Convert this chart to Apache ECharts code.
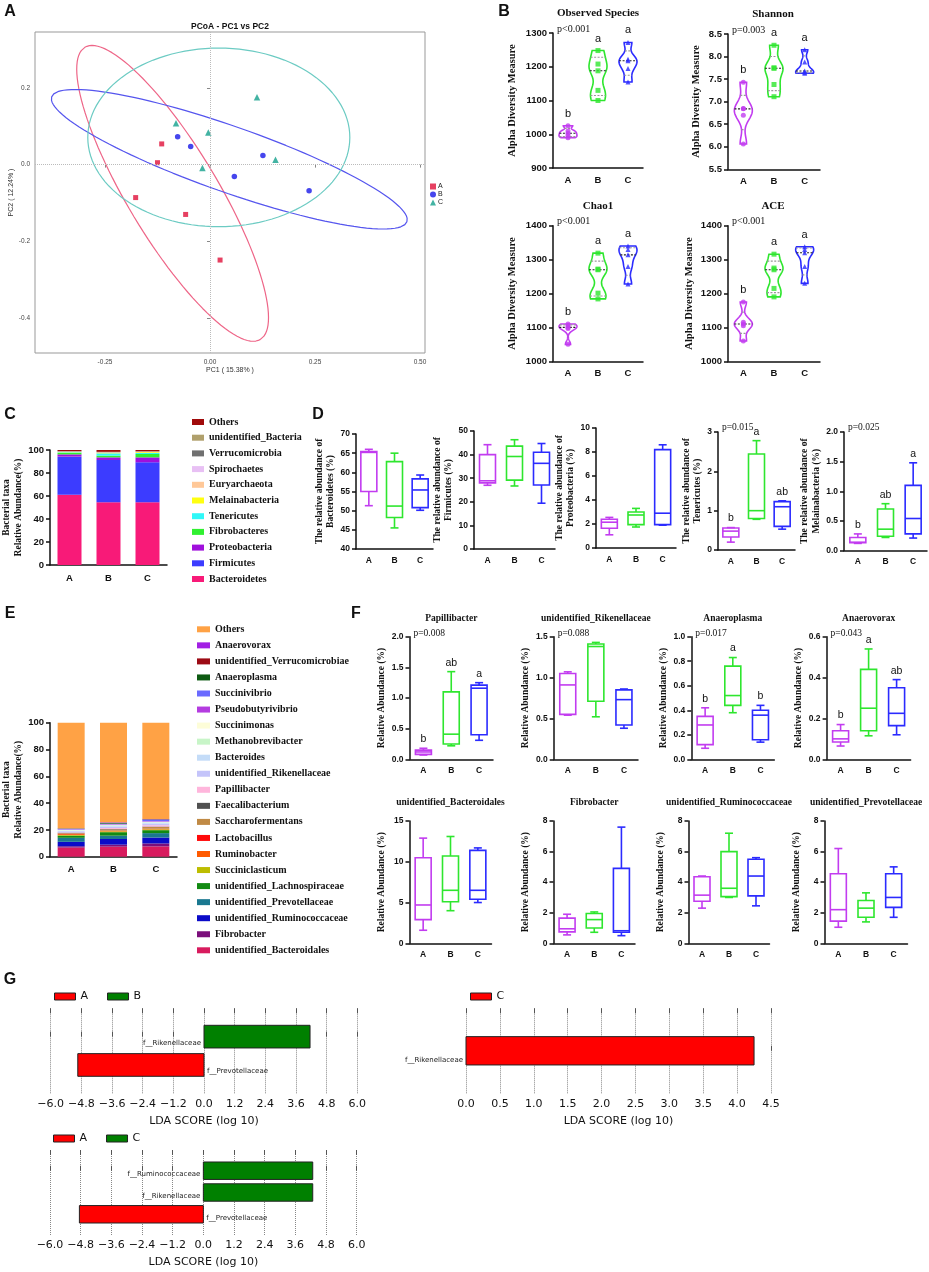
<!DOCTYPE html>
<html>
<head>
<meta charset="utf-8">
<script src="https://cdn.jsdelivr.net/npm/echarts/dist/echarts.min.js"></script>
<style>
  html, body { margin: 0; padding: 0; background: #fff; }
  #chart { width: 929px; height: 1272px; }
</style>
</head>
<body>
<div id="chart"></div>
<script>
// ---------- data ----------
const groups = ['A', 'B', 'C'];

// A: PCoA coordinates
const pcoaA = [[-0.115, 0.054], [-0.125, 0.005], [-0.177, -0.086], [-0.058, -0.130], [0.024, -0.249]];
const pcoaB = [[-0.077, 0.073], [-0.046, 0.047], [0.058, -0.031], [0.126, 0.024], [0.236, -0.068]];
const pcoaC = [[-0.081, 0.108], [-0.004, 0.084], [-0.018, -0.009], [0.112, 0.176], [0.156, 0.013]];
// confidence ellipses: centre and two semi-axis vectors (A, B, C)
const ellipseCenter = [[-0.089, -0.075], [0.046, 0.014], [0.021, 0.071]];
const ellipseAxis1 = [[0.209, -0.381], [0.423, -0.163], [0.312, 0]];
const ellipseAxis2 = [[0.092, 0.061], [-0.026, -0.081], [0, 0.233]];

// B: alpha diversity samples per group
const obsSpecies = [[1025, 1010, 1003, 996, 990], [1248, 1208, 1188, 1130, 1100], [1272, 1222, 1218, 1195, 1155]];
const shannon = [[7.43, 6.85, 6.84, 6.70, 6.06], [8.25, 7.75, 7.74, 7.38, 7.11], [8.15, 7.88, 7.68, 7.65, 7.63]];
const chao1 = [[1110, 1105, 1100, 1097, 1050], [1319, 1272, 1270, 1201, 1184], [1340, 1330, 1314, 1280, 1228]];
const ace = [[1175, 1115, 1110, 1105, 1060], [1316, 1275, 1270, 1215, 1190], [1338, 1330, 1320, 1280, 1230]];
const alphaLetters = [['b', 'a', 'a'], ['b', 'a', 'a'], ['b', 'a', 'a'], ['b', 'a', 'a']];
const alphaP = ['p<0.001', 'p=0.003', 'p<0.001', 'p<0.001'];

// C: phylum composition, bottom of stack first
const phylaNames = ['Bacteroidetes', 'Firmicutes', 'Proteobacteria', 'Fibrobacteres', 'Tenericutes', 'Melainabacteria',
  'Euryarchaeota', 'Spirochaetes', 'Verrucomicrobia', 'unidentified_Bacteria', 'Others'];
const phylaA = [61.0, 33.2, 2.0, 1.3, 0.5, 0.2, 0.2, 0.2, 0.2, 0.2, 1.0];
const phylaB = [54.5, 36.8, 2.3, 1.5, 2.0, 0.5, 0.2, 0.2, 0.2, 0.2, 1.6];
const phylaC = [54.5, 34.8, 4.3, 2.9, 0.9, 0.7, 0.2, 0.2, 0.2, 0.2, 1.1];

// D: phylum box stats [min, q1, median, q3, max]
const dNames = ['Bacteroidetes', 'Firmicutes', 'Proteobacteria', 'Tenericutes', 'Melainabacteria'];
const dStats = [
  [[51.3, 55.0, 65.2, 65.4, 66.0], [45.5, 48.2, 51.2, 62.8, 65.0], [50.1, 50.8, 55.4, 58.3, 59.3]],
  [[27.0, 28.0, 28.9, 40.0, 44.2], [26.7, 29.2, 39.2, 43.6, 46.3], [19.4, 27.1, 36.3, 41.0, 44.7]],
  [[1.1, 1.65, 2.15, 2.4, 2.55], [1.75, 1.95, 2.75, 3.0, 3.3], [1.9, 1.95, 2.9, 8.2, 8.6]],
  [[0.2, 0.33, 0.48, 0.56, 0.57], [0.78, 0.8, 1.0, 2.44, 2.78], [0.53, 0.6, 1.1, 1.23, 1.25]],
  [[0.12, 0.13, 0.14, 0.22, 0.28], [0.22, 0.24, 0.36, 0.70, 0.79], [0.21, 0.28, 0.54, 1.10, 1.48]]
];
const dLetters = [null, null, null, ['b', 'a', 'ab'], ['b', 'ab', 'a']];
const dP = [null, null, null, 'p=0.015', 'p=0.025'];
const dMin = [40, 0, 0, 0, 0];
const dMax = [70, 50, 10, 3, 2];
const dStep = [5, 10, 2, 1, 0.5];

// E: genus composition, bottom of stack first
const generaNames = ['unidentified_Bacteroidales', 'Fibrobacter', 'unidentified_Ruminococcaceae', 'unidentified_Prevotellaceae',
  'unidentified_Lachnospiraceae', 'Succiniclasticum', 'Ruminobacter', 'Lactobacillus', 'Saccharofermentans', 'Faecalibacterium',
  'Papillibacter', 'unidentified_Rikenellaceae', 'Bacteroides', 'Methanobrevibacter', 'Succinimonas', 'Pseudobutyrivibrio',
  'Succinivibrio', 'Anaeroplasma', 'unidentified_Verrucomicrobiae', 'Anaerovorax', 'Others'];
const generaA = [6.8, 1.0, 3.3, 3.0, 1.6, 0.5, 0.6, 0.4, 0.4, 0.3, 0.15, 0.9, 0.5, 0.3, 0.3, 0.3, 0.3, 0.3, 0.1, 0.1, 79.05];
const generaB = [7.5, 1.5, 4.2, 2.5, 2.6, 0.6, 0.3, 0.2, 1.0, 0.3, 0.7, 1.1, 0.8, 0.3, 0.3, 0.4, 0.4, 0.6, 0.1, 0.3, 74.3];
const generaC = [7.7, 2.2, 4.4, 3.3, 2.2, 0.6, 0.3, 0.2, 1.3, 0.3, 1.0, 1.2, 0.8, 0.3, 0.3, 0.4, 1.0, 0.3, 0.1, 0.3, 71.8];

// F: genus box stats [min, q1, median, q3, max]
const fNames = ['Papillibacter', 'unidentified_Rikenellaceae', 'Anaeroplasma', 'Anaerovorax',
  'unidentified_Bacteroidales', 'Fibrobacter', 'unidentified_Ruminococcaceae', 'unidentified_Prevotellaceae'];
const fStats = [
  [[0.07, 0.08, 0.12, 0.15, 0.18], [0.22, 0.25, 0.41, 1.10, 1.43], [0.31, 0.40, 1.16, 1.21, 1.25]],
  [[0.54, 0.55, 0.91, 1.05, 1.07], [0.52, 0.71, 1.38, 1.41, 1.43], [0.38, 0.42, 0.73, 0.85, 0.86]],
  [[0.09, 0.12, 0.28, 0.35, 0.42], [0.38, 0.44, 0.52, 0.76, 0.83], [0.14, 0.16, 0.36, 0.40, 0.44]],
  [[0.065, 0.085, 0.10, 0.14, 0.17], [0.115, 0.14, 0.25, 0.44, 0.54], [0.12, 0.165, 0.225, 0.35, 0.39]],
  [[1.6, 2.9, 4.7, 10.5, 12.9], [4.0, 5.1, 6.5, 10.7, 13.1], [5.0, 5.4, 6.5, 11.4, 11.7]],
  [[0.55, 0.75, 0.95, 1.65, 1.9], [0.72, 1.0, 1.55, 1.95, 2.05], [0.5, 0.72, 0.82, 4.9, 7.6]],
  [[2.3, 2.75, 3.15, 4.35, 4.4], [3.0, 3.05, 3.6, 6.0, 7.2], [2.45, 3.1, 4.4, 5.5, 5.6]],
  [[1.05, 1.45, 2.2, 4.55, 6.2], [1.4, 1.7, 2.3, 2.8, 3.3], [1.7, 2.35, 3.0, 4.55, 5.0]]
];
const fLetters = [['b', 'ab', 'a'], null, ['b', 'a', 'b'], ['b', 'a', 'ab'], null, null, null, null];
const fP = ['p=0.008', 'p=0.088', 'p=0.017', 'p=0.043', null, null, null, null];
const fMax = [2, 1.5, 1, 0.6, 15, 8, 8, 8];
const fStep = [0.5, 0.5, 0.2, 0.2, 5, 2, 2, 2];

// G: LEfSe LDA scores (negative = left group)
const ldaABTaxa = ['f__Rikenellaceae', 'f__Prevotellaceae'];
const ldaABScore = [4.15, -4.94];
const ldaABGroup = ['B', 'A'];
const ldaCTaxa = ['f__Rikenellaceae'];
const ldaCScore = [4.25];
const ldaCGroup = ['C'];
const ldaACTaxa = ['f__Ruminococcaceae', 'f__Rikenellaceae', 'f__Prevotellaceae'];
const ldaACScore = [4.28, 4.28, -4.85];
const ldaACGroup = ['C', 'C', 'A'];

// ---------- styles ----------
const groupColors = ['#c23cf0', '#2ee62e', '#2b2bff'];
const groupSymbols = ['circle', 'rect', 'triangle'];
const phylaColors = ['#f81a78', '#3c3cff', '#a010dc', '#30f030', '#30f8f8', '#ffff10', '#ffc898', '#e8c0f4', '#707070', '#b0a06c', '#a00a0a'];
const generaColors = ['#d81b5e', '#7b0f7b', '#0b0bc8', '#1a7890', '#128a12', '#bdbd00', '#ff5a00', '#ff0a0a', '#c08a45', '#505050',
  '#ffb6dc', '#c4c4fa', '#c4dcf8', '#c8f5c8', '#fdfdd8', '#b43ce0', '#6a6aff', '#0d5a12', '#9c0a14', '#a21fe4', '#ffa245'];
const SANS = 'Liberation Sans';
const SERIF = 'Liberation Serif';
const INK = '#111';

const option = { animation: false, grid: [], xAxis: [], yAxis: [], series: [], legend: [], graphic: { elements: [] } };

function addGrid(box, xa, ya) {
  option.grid.push({ left: box[0], top: box[1], width: box[2], height: box[3] });
  const gi = option.grid.length - 1;
  option.xAxis.push(Object.assign({ gridIndex: gi }, xa));
  const xi = option.xAxis.length - 1;
  option.yAxis.push(Object.assign({ gridIndex: gi }, ya));
  return { gi, xi, yi: option.yAxis.length - 1 };
}

function text(str, x, y, font, align, color) {
  option.graphic.elements.push({
    type: 'text', x, y,
    style: { text: str, font, fill: color || INK, textAlign: align || 'center', align: align || 'center',
      textVerticalAlign: 'middle', verticalAlign: 'middle' }
  });
}

function catAxis(fontSize, margin) {
  return {
    type: 'category', data: groups,
    axisLine: { lineStyle: { color: INK, width: 1.5 } },
    axisTick: { alignWithLabel: true, length: 4, lineStyle: { color: INK, width: 1.5 } },
    axisLabel: { color: INK, fontWeight: 'bold', fontFamily: SANS, fontSize, margin: margin || 6 }
  };
}

function valAxis(min, max, step, dec, fontSize, name, nameGap, nameSize) {
  return {
    type: 'value', min, max, interval: step,
    axisLine: { show: true, lineStyle: { color: INK, width: 1.5 } },
    axisTick: { show: true, length: 4, lineStyle: { color: INK, width: 1.5 } },
    splitLine: { show: false },
    axisLabel: { color: INK, fontWeight: 'bold', fontFamily: SANS, fontSize, margin: 6, formatter: v => v.toFixed(dec) },
    name, nameLocation: 'middle', nameGap, nameRotate: 90,
    nameTextStyle: { fontFamily: SERIF, fontWeight: 'bold', fontSize: nameSize, color: INK, lineHeight: nameSize + 2 }
  };
}

// ---------- A: PCoA ----------
const pA = addGrid([35, 32, 390, 321], {
  type: 'value', min: -0.4167, max: 0.512,
  axisLine: { show: false }, splitLine: { show: false },
  axisTick: { show: true, length: 3, lineStyle: { color: '#888' }, customValues: [-0.25, 0, 0.25, 0.5] },
  axisLabel: { fontSize: 6.5, color: '#444', fontFamily: SANS, margin: 6, customValues: [-0.25, 0, 0.25, 0.5], formatter: v => v.toFixed(2) },
  name: 'PC1 ( 15.38% )', nameLocation: 'middle', nameGap: 14, nameTextStyle: { fontSize: 7, color: '#333', fontFamily: SANS }
}, {
  type: 'value', min: -0.4915, max: 0.346,
  axisLine: { show: false }, splitLine: { show: false },
  axisTick: { show: true, length: 3, lineStyle: { color: '#888' }, customValues: [-0.4, -0.2, 0, 0.2] },
  axisLabel: { fontSize: 6.5, color: '#444', fontFamily: SANS, margin: 5, customValues: [-0.4, -0.2, 0, 0.2], formatter: v => v.toFixed(1) },
  name: 'PC2 ( 12.24% )', nameLocation: 'middle', nameGap: 18, nameRotate: 90, nameTextStyle: { fontSize: 7, color: '#333', fontFamily: SANS }
});
option.grid[pA.gi].show = true;
option.grid[pA.gi].borderColor = '#999';
option.grid[pA.gi].borderWidth = 1;

function ellipsePoints(k) {
  const pts = [];
  for (let t = 0; t <= 120; t++) {
    const a = t / 120 * Math.PI * 2;
    pts.push([ellipseCenter[k][0] + ellipseAxis1[k][0] * Math.cos(a) + ellipseAxis2[k][0] * Math.sin(a),
      ellipseCenter[k][1] + ellipseAxis1[k][1] * Math.cos(a) + ellipseAxis2[k][1] * Math.sin(a)]);
  }
  return pts;
}
const ellipseColors = ['#ee6688', '#5555ee', '#6ccbc3'];
[0, 1, 2].forEach(k => option.series.push({
  type: 'line', name: 'ellipse' + k, xAxisIndex: pA.xi, yAxisIndex: pA.yi, data: ellipsePoints(k),
  showSymbol: false, silent: true, lineStyle: { color: ellipseColors[k], width: 1.2 }, z: 2
}));
option.series.push({
  type: 'scatter', name: 'P:A', xAxisIndex: pA.xi, yAxisIndex: pA.yi, data: pcoaA,
  symbol: 'rect', symbolSize: 5, itemStyle: { color: '#e0103a' }, z: 3,
  markLine: { silent: true, symbol: ['none', 'none'], label: { show: false },
    lineStyle: { type: 'dotted', color: '#bbb', width: 1 }, data: [{ xAxis: 0 }, { yAxis: 0 }] }
});
option.series.push({ type: 'scatter', name: 'P:B', xAxisIndex: pA.xi, yAxisIndex: pA.yi, data: pcoaB,
  symbol: 'circle', symbolSize: 5.5, itemStyle: { color: '#1818e8' }, z: 3 });
option.series.push({ type: 'scatter', name: 'P:C', xAxisIndex: pA.xi, yAxisIndex: pA.yi, data: pcoaC,
  symbol: 'triangle', symbolSize: 6.5, itemStyle: { color: '#14a08c' }, z: 3 });
option.legend.push({
  data: ['P:A', 'P:B', 'P:C'], formatter: n => n.split(':')[1], orient: 'vertical', left: 430, top: 183,
  itemWidth: 6, itemHeight: 6, itemGap: 1, padding: 0,
  textStyle: { fontSize: 7, lineHeight: 6, color: '#222', fontFamily: SANS, padding: [0, 0, 0, -3] }
});
text('PCoA - PC1 vs PC2', 230, 27, 'bold 8.5px "Liberation Sans"');

// ---------- B: violins ----------
function quantile(v, p) {
  const n = v.length, pos = p * (n + 1);
  if (pos <= 1) return v[0];
  if (pos >= n) return v[n - 1];
  const lo = Math.floor(pos);
  return v[lo - 1] + (pos - lo) * (v[lo] - v[lo - 1]);
}

function violinRender(vals, letters) {
  return function (params, api) {
    const i = api.value(0);
    const v = vals[i].slice().sort((a, b) => a - b);
    const n = v.length;
    const mean = v.reduce((s, x) => s + x, 0) / n;
    const sd = Math.sqrt(v.reduce((s, x) => s + (x - mean) * (x - mean), 0) / (n - 1));
    const h = 0.5 * 1.06 * sd * Math.pow(n, -0.2);
    const dens = y => v.reduce((s, x) => s + Math.exp(-0.5 * ((y - x) / h) * ((y - x) / h)), 0);
    const lo = v[0], hi = v[n - 1];
    const ys = [];
    for (let k = 0; k <= 40; k++) ys.push(lo + (hi - lo) * k / 40);
    const dmax = Math.max(...ys.map(dens));
    const halfW = 9;
    const cx = api.coord([i, lo])[0];
    const wAt = y => halfW * dens(y) / dmax;
    const left = ys.map(y => [cx - wAt(y), api.coord([i, y])[1]]);
    const right = ys.map(y => [cx + wAt(y), api.coord([i, y])[1]]).reverse();
    const col = groupColors[i];
    const hline = (y, stroke, dash) => {
      const py = api.coord([i, y])[1], w = wAt(y);
      return { type: 'line', shape: { x1: cx - w, y1: py, x2: cx + w, y2: py }, style: { stroke, lineWidth: 1.1, lineDash: dash } };
    };
    const top = api.coord([i, hi])[1];
    return {
      type: 'group', children: [
        { type: 'polygon', shape: { points: left.concat(right) }, style: { fill: 'none', stroke: col, lineWidth: 1.6 } },
        hline(quantile(v, 0.25), '#999', [2, 1.5]),
        hline(quantile(v, 0.75), '#999', [2, 1.5]),
        hline(quantile(v, 0.5), '#222', [2, 1.5]),
        { type: 'text', x: cx, y: top - 12, style: { text: letters[i], font: '11px "Liberation Sans"', fill: INK,
          textAlign: 'center', align: 'center', textVerticalAlign: 'middle', verticalAlign: 'middle' } }
      ]
    };
  };
}

const alphaSets = [obsSpecies, shannon, chao1, ace];
const alphaTitles = ['Observed Species', 'Shannon', 'Chao1', 'ACE'];
const alphaBoxes = [[553, 33, 90, 135], [728, 34, 92, 135.3], [553, 225.7, 90, 135.6], [728, 225.7, 92, 135.6]];
const alphaAxis = [[900, 1300, 100, 0], [5.5, 8.5, 0.5, 1], [1000, 1400, 100, 0], [1000, 1400, 100, 0]];
const alphaNameGap = [34, 25, 34, 32];
alphaSets.forEach((vals, k) => {
  const b = alphaBoxes[k], ax = alphaAxis[k];
  const g = addGrid(b, catAxis(9.5, 7), valAxis(ax[0], ax[1], ax[2], ax[3], 9.5, 'Alpha Diversity Measure', alphaNameGap[k], 10.5));
  option.series.push({
    type: 'custom', xAxisIndex: g.xi, yAxisIndex: g.yi, clip: false, z: 2,
    data: vals.map((v, i) => [i, v[2]]), renderItem: violinRender(vals, alphaLetters[k])
  });
  const pts = [];
  vals.forEach((v, i) => v.forEach(x => pts.push([i, x])));
  option.series.push({
    type: 'scatter', xAxisIndex: g.xi, yAxisIndex: g.yi, data: pts, z: 3, symbolSize: 5,
    symbol: val => groupSymbols[val[0]], itemStyle: { color: p => groupColors[p.data[0]] }
  });
  text(alphaTitles[k], b[0] + 45, b[1] - 20, 'bold 11px "Liberation Serif"');
  text(alphaP[k], b[0] + 4, b[1] - 4, '10px "Liberation Serif"', 'left');
});

// ---------- C: phylum stacked bars ----------
const pC = addGrid([50, 450, 117, 115], catAxis(9.5, 8),
  valAxis(0, 100, 20, 0, 9.5, 'Bacterial taxa\nRelative Abundance(%)', 24, 9.5));
phylaNames.forEach((nm, k) => option.series.push({
  type: 'bar', name: 'C:' + nm, stack: 'phyla', xAxisIndex: pC.xi, yAxisIndex: pC.yi, barWidth: 24,
  data: [phylaA[k], phylaB[k], phylaC[k]], itemStyle: { color: phylaColors[k] }
}));
option.legend.push({
  data: phylaNames.map(n => 'C:' + n).reverse(), formatter: n => n.slice(2), orient: 'vertical', left: 192, top: 417,
  itemWidth: 12, itemHeight: 6, itemGap: 5.7, padding: 0, icon: 'rect',
  textStyle: { fontFamily: SERIF, fontWeight: 'bold', fontSize: 10, lineHeight: 10, color: INK }
});

// ---------- box plot helper ----------
function boxRender(stats, letters) {
  return function (params, api) {
    const i = api.value(0);
    const s = stats[i];
    const col = groupColors[i];
    const x = api.coord([i, s[2]])[0];
    const y = v => api.coord([i, v])[1];
    const bw = 8, cw = 4;
    const ln = (x1, y1, x2, y2) => ({ type: 'line', shape: { x1, y1, x2, y2 }, style: { stroke: col, lineWidth: 1.6 } });
    const ch = [
      { type: 'rect', shape: { x: x - bw, y: y(s[3]), width: 2 * bw, height: y(s[1]) - y(s[3]) },
        style: { stroke: col, lineWidth: 1.6, fill: 'none' } },
      ln(x - bw, y(s[2]), x + bw, y(s[2])),
      ln(x, y(s[3]), x, y(s[4])), ln(x - cw, y(s[4]), x + cw, y(s[4])),
      ln(x, y(s[1]), x, y(s[0])), ln(x - cw, y(s[0]), x + cw, y(s[0]))
    ];
    if (letters) ch.push({ type: 'text', x, y: y(s[4]) - 9, style: { text: letters[i], font: '10.5px "Liberation Sans"', fill: INK,
      textAlign: 'center', align: 'center', textVerticalAlign: 'middle', verticalAlign: 'middle' } });
    return { type: 'group', children: ch };
  };
}

function boxPlot(box, stats, letters, min, max, step, dec, name, nameGap, nameSize) {
  const g = addGrid(box, catAxis(8.5, 7), valAxis(min, max, step, dec, 8.5, name, nameGap, nameSize));
  option.series.push({
    type: 'custom', xAxisIndex: g.xi, yAxisIndex: g.yi, clip: false,
    data: stats.map((s, i) => [i, s[2]]), renderItem: boxRender(stats, letters)
  });
}

// ---------- D ----------
const dBoxes = [[356, 434, 77, 115], [474, 431, 81, 118], [596, 428, 80, 120], [718, 432, 77, 118], [844, 432, 83, 118.5]];
const dNameGap = [17, 15, 16, 13, 19];
dNames.forEach((nm, k) => {
  boxPlot(dBoxes[k], dStats[k], dLetters[k], dMin[k], dMax[k], dStep[k], dStep[k] < 1 ? 1 : 0,
    'The relative abundance of\n' + nm + ' (%)', dNameGap[k], 9.5);
  if (dP[k]) text(dP[k], dBoxes[k][0] + 4, dBoxes[k][1] - 5, '9.5px "Liberation Serif"', 'left');
});

// ---------- E: genus stacked bars ----------
const pE = addGrid([50, 722.7, 127, 134], catAxis(9.5, 8),
  valAxis(0, 100, 20, 0, 9.5, 'Bacterial taxa\nRelative Abundance(%)', 25, 9.5));
generaNames.forEach((nm, k) => option.series.push({
  type: 'bar', name: 'E:' + nm, stack: 'genera', xAxisIndex: pE.xi, yAxisIndex: pE.yi, barWidth: 27,
  data: [generaA[k], generaB[k], generaC[k]], itemStyle: { color: generaColors[k] }
}));
option.legend.push({
  data: generaNames.map(n => 'E:' + n).reverse(), formatter: n => n.slice(2), orient: 'vertical', left: 197, top: 624.3,
  itemWidth: 13, itemHeight: 6, itemGap: 6.05, padding: 0, icon: 'rect',
  textStyle: { fontFamily: SERIF, fontWeight: 'bold', fontSize: 10, lineHeight: 10, color: INK }
});

// ---------- F ----------
const fBoxes = [[409.5, 636.7, 83.5, 122.6], [553.7, 636.7, 84.3, 122.6], [691.3, 636.7, 83, 122.6], [826.6, 636.7, 84, 122.6],
  [409.5, 821, 82, 122.3], [553.5, 821, 81.5, 122.3], [688.5, 821, 81, 122.3], [824.5, 821, 83, 122.3]];
fNames.forEach((nm, k) => {
  const b = fBoxes[k];
  boxPlot(b, fStats[k], fLetters[k], 0, fMax[k], fStep[k], fStep[k] < 1 || fMax[k] === 2 ? 1 : 0,
    'Relative Abundance (%)', 22, 9.5);
  text(nm, b[0] + b[2] / 2, b[1] - 18, 'bold 9.5px "Liberation Serif"');
  if (fP[k]) text(fP[k], b[0] + 4, b[1] - 3, '9.5px "Liberation Serif"', 'left');
});

// ---------- G: LDA ----------
function ldaChart(box, xmin, xmax, step, ymin, ymax, taxa, scores, grp, prefix, legendPos, legendOrder, colors) {
  const fmt = v => (v < -1e-9 ? '\u2212' : '') + Math.abs(v).toFixed(1);
  const g = addGrid(box, {
    type: 'value', min: xmin, max: xmax, interval: step,
    axisLine: { show: false },
    axisTick: { show: true, inside: true, length: 5, lineStyle: { color: '#555' } },
    splitLine: { show: true, lineStyle: { type: 'dotted', color: '#888', width: 1 } },
    axisLabel: { formatter: fmt, fontFamily: 'DejaVu Sans', fontSize: 11, color: INK, margin: 5 },
    name: 'LDA SCORE (log 10)', nameLocation: 'middle', nameGap: 22,
    nameTextStyle: { fontFamily: 'DejaVu Sans', fontSize: 11, color: INK }
  }, { type: 'value', min: ymin, max: ymax, inverse: true, show: false });
  option.xAxis.push({
    gridIndex: g.gi, type: 'value', position: 'top', min: xmin, max: xmax, interval: step,
    axisLine: { show: false }, axisLabel: { show: false }, splitLine: { show: false },
    axisTick: { show: true, inside: true, length: 5, lineStyle: { color: '#555' } }
  });
  const hh = 0.4;
  legendOrder.forEach((gname, gi) => {
    const data = [];
    taxa.forEach((t, k) => { if (grp[k] === gname) data.push([scores[k], k]); });
    option.series.push({
      type: 'custom', name: prefix + gname, xAxisIndex: g.xi, yAxisIndex: g.yi,
      itemStyle: { color: colors[gi] }, data,
      renderItem(params, api) {
        const s = api.value(0), k = api.value(1);
        const p0 = api.coord([0, k - hh]), p1 = api.coord([s, k + hh]);
        const x0 = Math.min(p0[0], p1[0]), y0 = Math.min(p0[1], p1[1]);
        const bottom = Math.max(p0[1], p1[1]);
        const pos = s > 0;
        return {
          type: 'group', children: [
            { type: 'rect', shape: { x: x0, y: y0, width: Math.abs(p1[0] - p0[0]), height: Math.abs(p1[1] - p0[1]) },
              style: { fill: colors[gi], stroke: '#222', lineWidth: 1 } },
            { type: 'text', x: pos ? p0[0] - 3 : p0[0] + 3, y: bottom - 5,
              style: { text: taxa[k], font: '7px "DejaVu Sans"', fill: '#222', textAlign: pos ? 'right' : 'left',
                align: pos ? 'right' : 'left', textVerticalAlign: 'middle', verticalAlign: 'middle' } }
          ]
        };
      }
    });
  });
  option.legend.push({
    data: legendOrder.map(n => prefix + n), formatter: n => n.split(':')[1], left: legendPos[0], top: legendPos[1],
    itemWidth: 21, itemHeight: 7, itemGap: 19, padding: 0, icon: 'rect',
    itemStyle: { borderColor: '#222', borderWidth: 1 },
    textStyle: { fontFamily: 'DejaVu Sans', fontSize: 11, color: INK, lineHeight: 11 }
  });
}
ldaChart([50.7, 1008.3, 306.6, 85], -6, 6, 1.2, -1, 2, ldaABTaxa, ldaABScore, ldaABGroup, 'G1:', [54, 991], ['A', 'B'], ['#ff0000', '#008000']);
ldaChart([466, 1008.3, 305, 85], 0, 4.5, 0.5, -1.2, 1.2, ldaCTaxa, ldaCScore, ldaCGroup, 'G2:', [470, 991], ['C'], ['#ff0000']);
ldaChart([50, 1150, 306.7, 85], -6, 6, 1.2, -0.95, 2.95, ldaACTaxa, ldaACScore, ldaACGroup, 'G3:', [53, 1133], ['A', 'C'], ['#ff0000', '#008000']);

// ---------- panel letters ----------
const LETTER = 'bold 16px "Liberation Sans"';
text('A', 10, 12, LETTER);
text('B', 504, 12, LETTER);
text('C', 10, 415, LETTER);
text('D', 318, 415, LETTER);
text('E', 10, 614, LETTER);
text('F', 356, 614, LETTER);
text('G', 10, 980, LETTER);

const chart = echarts.init(document.getElementById('chart'));
chart.setOption(option);
</script>
</body>
</html>
